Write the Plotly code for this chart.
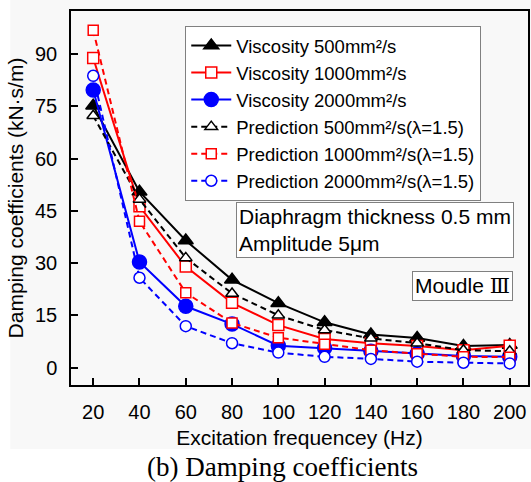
import plotly.graph_objects as go

freq = [20, 40, 60, 80, 100, 120, 140, 160, 180, 200]
visc_500 = [75.2, 50.5, 36.5, 25.2, 18.5, 13.0, 9.5, 8.5, 6.2, 6.5]
visc_1000 = [88.9, 46.3, 29.0, 18.6, 12.2, 8.2, 7.0, 6.2, 5.0, 6.3]
visc_2000 = [79.7, 30.3, 17.6, 12.5, 6.3, 5.6, 4.7, 4.0, 3.3, 3.1]
pred_500 = [72.3, 48.3, 31.5, 21.3, 15.0, 10.8, 8.4, 7.0, 5.0, 4.7]
pred_1000 = [96.9, 42.0, 21.5, 12.8, 8.6, 6.7, 5.0, 4.0, 3.1, 3.0]
pred_2000 = [83.8, 25.8, 11.9, 7.0, 4.3, 3.1, 2.5, 1.7, 1.4, 1.2]

x_ticks = [20, 40, 60, 80, 100, 120, 140, 160, 180, 200]
y_ticks = [0, 15, 30, 45, 60, 75, 90]

FONT = "Liberation Sans, Arial, sans-serif"

series = [
    ("Viscosity 500mm²/s", visc_500, "#000000", "solid", "triangle-up", 13, "#000000"),
    ("Viscosity 1000mm²/s", visc_1000, "#ff0000", "solid", "square", 11, "white"),
    ("Viscosity 2000mm²/s", visc_2000, "#0000ff", "solid", "circle", 14, "#0000ff"),
    ("Prediction 500mm²/s(λ=1.5)", pred_500, "#000000", "6px,4px", "triangle-up", 11, "white"),
    ("Prediction 1000mm²/s(λ=1.5)", pred_1000, "#ff0000", "6px,4px", "square", 10, "white"),
    ("Prediction 2000mm²/s(λ=1.5)", pred_2000, "#0000ff", "6px,4px", "circle", 11, "white"),
]

fig = go.Figure()
for name, vals, col, dash, sym, size, fill in series:
    fig.add_trace(go.Scatter(
        x=freq, y=vals, name=name, mode="lines+markers",
        line=dict(color=col, width=2, dash=dash),
        marker=dict(symbol=sym, size=size, color=fill,
                    line=dict(color=col, width=1.5)),
    ))

fig.update_layout(
    width=531, height=482,
    margin=dict(l=71, r=1, t=11, b=97),
    paper_bgcolor="white",
    plot_bgcolor="rgba(0,0,0,0)",
    font=dict(family=FONT, size=20, color="black"),
    showlegend=True,
    legend=dict(
        x=0.25, y=0.96, xanchor="left", yanchor="top",
        bgcolor="white", bordercolor="#808080", borderwidth=1,
        font=dict(family=FONT, size=18.5, color="black"),
        itemwidth=40,
    ),
    xaxis=dict(
        range=[10.4, 207.9], tickvals=x_ticks, ticks="inside", ticklen=7,
        tickwidth=1.5, tickcolor="black",
        showline=True, linecolor="black", linewidth=1.5, mirror=True,
        showgrid=False, zeroline=False,
        tickfont=dict(size=20),
        title=dict(text="Excitation frequencey (Hz)", font=dict(size=21), standoff=9),
        ticklabelstandoff=8,
    ),
    yaxis=dict(
        range=[-5.0, 102.4], tickvals=y_ticks, ticks="inside", ticklen=7,
        tickwidth=1.5, tickcolor="black",
        showline=True, linecolor="black", linewidth=1.5, mirror=True,
        showgrid=False, zeroline=False,
        tickfont=dict(size=20),
        title=dict(text="Damping coefficients (kN·s/m)", font=dict(size=21), standoff=6),
        ticklabelstandoff=8,
    ),
    shapes=[
        dict(type="rect", xref="paper", yref="paper", layer="below",
             x0=-61 / 459, x1=1.01, y0=-64 / 374, y1=1.05,
             fillcolor="#f8f8f8", line=dict(width=0)),
    ],
    annotations=[
        dict(xref="paper", yref="paper", x=0.361, y=0.490, xanchor="left", yanchor="top",
             text="Diaphragm thickness 0.5 mm<br>Amplitude 5μm", align="left",
             showarrow=False, font=dict(size=21, family=FONT),
             bgcolor="white", bordercolor="#808080", borderwidth=1, borderpad=2),
        dict(xref="paper", yref="paper", x=0.747, y=0.3056, xanchor="left", yanchor="top",
             text="Moudle <span style='font-family:DejaVu Serif, Liberation Serif, serif'>Ⅲ</span>",
             align="left", showarrow=False, font=dict(size=21, family=FONT),
             bgcolor="white", bordercolor="#808080", borderwidth=1, borderpad=2),
        dict(xref="paper", yref="paper", x=212.5 / 459, y=-82 / 374, xanchor="center", yanchor="middle",
             text="(b) Damping coefficients", showarrow=False,
             font=dict(size=27, family="Liberation Serif, Times New Roman, serif")),
    ],
)

fig.write_html("out.html")
